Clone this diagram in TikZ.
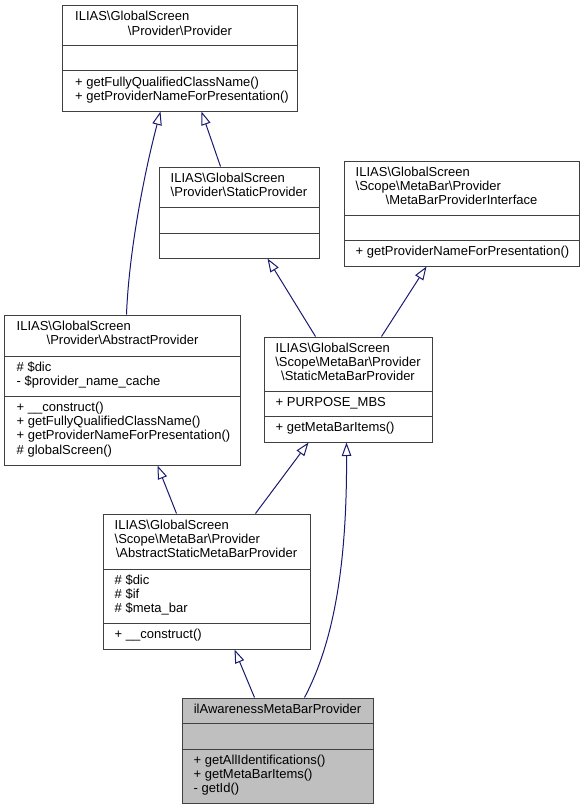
\documentclass[tikz,border=0pt]{standalone}
\usepackage{fontspec}
\setmainfont{Liberation Sans}
\usetikzlibrary{arrows.meta}
\definecolor{boxline}{RGB}{64,64,64}
\definecolor{edgeblue}{RGB}{25,25,112}
\definecolor{hilite}{RGB}{191,191,191}
\newcommand\bs{\textbackslash}
\tikzset{
  classbox/.style={draw=boxline, line width=1bp, inner sep=0pt, rectangle},
  divider/.style={draw=boxline, line width=1bp},
  txt/.style={inner sep=0pt, font=\fontsize{13bp}{14.4bp}\selectfont, text=black},
  lt/.style={txt, anchor=base west},
  ct/.style={txt, anchor=base},
  inh/.style={draw=edgeblue, line width=1bp, -{Triangle[open, length=13.5bp, width=9.5bp, line width=1bp]}},
}
\begin{document}
\begin{tikzpicture}[x=1bp, y=-1bp]
\useasboundingbox (0,0) rectangle (584,809);

% ---- Box 1: Provider
\node[classbox, minimum width=234bp, minimum height=105bp] (prov) at (180,58.5) {};
\draw[divider] (63,46) -- (297,46);
\draw[divider] (63,71) -- (297,71);
\node[lt] (prov-t1) at (75,21) {ILIAS\bs GlobalScreen};
\node[ct] (prov-t2) at (180,35.4) {\bs Provider\bs Provider};
\node[lt] (prov-m1) at (75,86) {+ getFullyQualifiedClassName()};
\node[lt] (prov-m2) at (75,100.4) {+ getProviderNameForPresentation()};

% ---- Box 2: StaticProvider
\node[classbox, minimum width=160bp, minimum height=91bp] (sprov) at (239,212.5) {};
\draw[divider] (159,207) -- (319,207);
\draw[divider] (159,233) -- (319,233);
\node[lt] (sprov-t1) at (170.5,182) {ILIAS\bs GlobalScreen};
\node[ct] (sprov-t2) at (239,196.4) {\bs Provider\bs StaticProvider};

% ---- Box 3: MetaBarProviderInterface
\node[classbox, minimum width=235bp, minimum height=105bp] (iface) at (461.5,213.5) {};
\draw[divider] (344,215) -- (579,215);
\draw[divider] (344,240) -- (579,240);
\node[lt] (iface-t1) at (355.5,176) {ILIAS\bs GlobalScreen};
\node[lt] (iface-t2) at (355.5,190.4) {\bs Scope\bs MetaBar\bs Provider};
\node[ct] (iface-t3) at (461.5,204.8) {\bs MetaBarProviderInterface};
\node[lt] (iface-m1) at (355.5,255) {+ getProviderNameForPresentation()};

% ---- Box 4: StaticMetaBarProvider
\node[classbox, minimum width=168bp, minimum height=105bp] (smbp) at (348,389.5) {};
\draw[divider] (264,391) -- (432,391);
\draw[divider] (264,416) -- (432,416);
\node[lt] (smbp-t1) at (275.5,352) {ILIAS\bs GlobalScreen};
\node[ct] (smbp-t2) at (348,366.4) {\bs Scope\bs MetaBar\bs Provider};
\node[ct] (smbp-t3) at (348,380.8) {\bs StaticMetaBarProvider};
\node[lt] (smbp-a1) at (275.5,406) {+ PURPOSE\_MBS};
\node[lt] (smbp-m1) at (275.5,431) {+ getMetaBarItems()};

% ---- Box 5: AbstractProvider
\node[classbox, minimum width=235bp, minimum height=150bp] (absprov) at (122.5,390) {};
\draw[divider] (5,356) -- (240,356);
\draw[divider] (5,396) -- (240,396);
\node[lt] (absprov-t1) at (16.5,330) {ILIAS\bs GlobalScreen};
\node[ct] (absprov-t2) at (122.5,344.4) {\bs Provider\bs AbstractProvider};
\node[lt] (absprov-a1) at (16.5,371) {\# \$dic};
\node[lt] (absprov-a2) at (16.5,385.4) {- \$provider\_name\_cache};
\node[lt] (absprov-m1) at (16.5,411) {+ \_\_construct()};
\node[lt] (absprov-m2) at (16.5,425.4) {+ getFullyQualifiedClassName()};
\node[lt] (absprov-m3) at (16.5,439.8) {+ getProviderNameForPresentation()};
\node[lt] (absprov-m4) at (16.5,454.2) {\# globalScreen()};

% ---- Box 6: AbstractStaticMetaBarProvider
\node[classbox, minimum width=207bp, minimum height=135bp] (asmbp) at (206.5,581.5) {};
\draw[divider] (103,569) -- (310,569);
\draw[divider] (103,623) -- (310,623);
\node[lt] (asmbp-t1) at (114.5,529) {ILIAS\bs GlobalScreen};
\node[lt] (asmbp-t2) at (114.5,543.4) {\bs Scope\bs MetaBar\bs Provider};
\node[ct] (asmbp-t3) at (206.5,557.8) {\bs AbstractStaticMetaBarProvider};
\node[lt] (asmbp-a1) at (114.5,584) {\# \$dic};
\node[lt] (asmbp-a2) at (114.5,598.4) {\# \$if};
\node[lt] (asmbp-a3) at (114.5,612.8) {\# \$meta\_bar};
\node[lt] (asmbp-m1) at (114.5,638) {+ \_\_construct()};

% ---- Box 7: ilAwarenessMetaBarProvider
\node[classbox, fill=hilite, minimum width=191bp, minimum height=105bp] (aware) at (277.5,750.5) {};
\draw[divider] (182,723) -- (373,723);
\draw[divider] (182,749) -- (373,749);
\node[ct] (aware-t1) at (277.5,713) {ilAwarenessMetaBarProvider};
\node[lt] (aware-m1) at (193.5,764) {+ getAllIdentifications()};
\node[lt] (aware-m2) at (193.5,778.4) {+ getMetaBarItems()};
\node[lt] (aware-m3) at (193.5,792.8) {- getId()};

% ---- Inheritance edges
\draw[inh] ([xshift=122bp]absprov.north west) .. controls (129,250) and (145,170) .. ([xshift=98bp]prov.south west);
\draw[inh] ([xshift=62bp]sprov.north west) -- ([xshift=139bp]prov.south west);
\draw[inh] ([xshift=52bp]smbp.north west) -- ([xshift=109bp]sprov.south west);
\draw[inh] ([xshift=118bp]smbp.north west) -- ([xshift=83bp]iface.south west);
\draw[inh] ([xshift=74bp]asmbp.north west) -- ([xshift=153bp]absprov.south west);
\draw[inh] ([xshift=153bp]asmbp.north west) -- ([xshift=45bp]smbp.south west);
\draw[inh] ([xshift=73bp]aware.north west) -- ([xshift=132bp]asmbp.south west);
\draw[inh] ([xshift=123bp]aware.north west) .. controls (335,640) and (347,560) .. ([xshift=83bp]smbp.south west);
\end{tikzpicture}
\end{document}
